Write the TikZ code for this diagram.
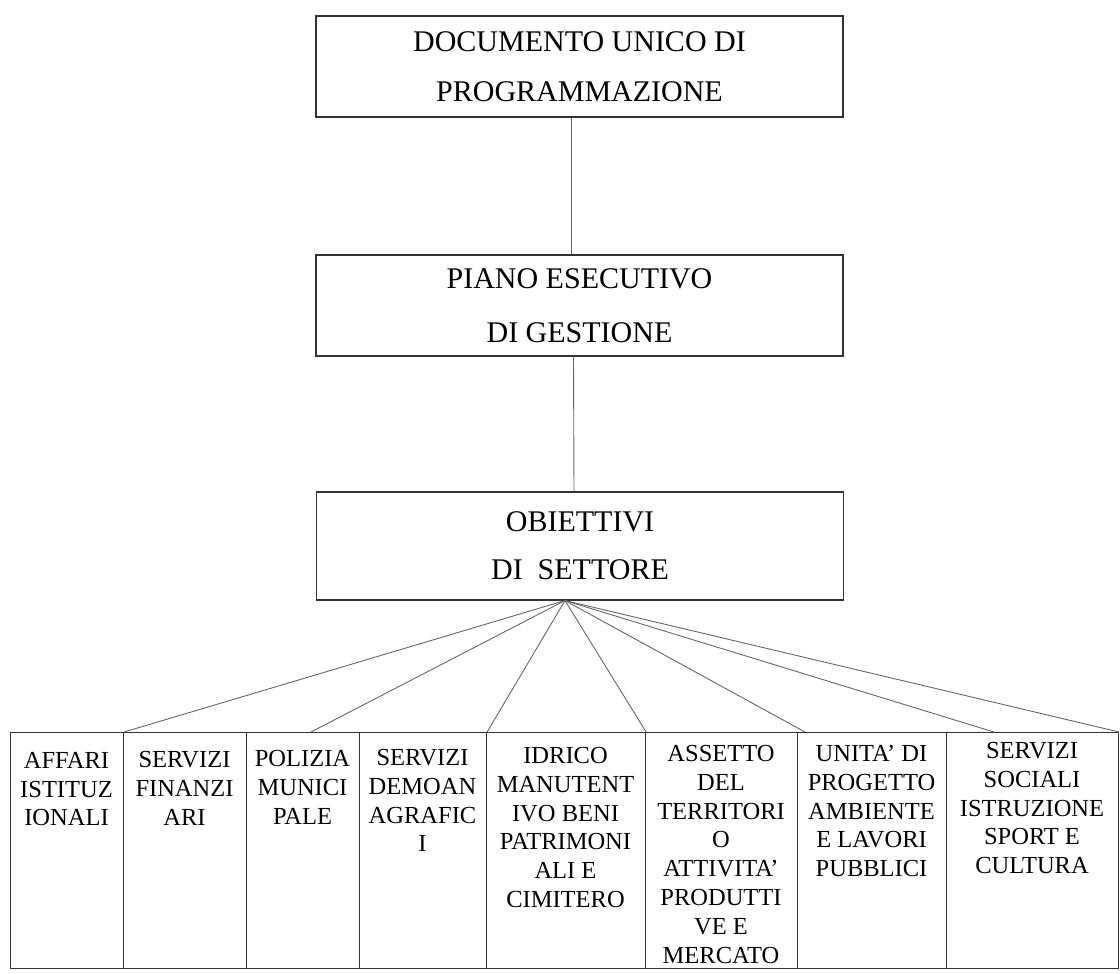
\documentclass[tikz,border=0pt]{standalone}
\usepackage{fontspec}
\setmainfont{Liberation Serif}
\begin{document}
\begin{tikzpicture}[x=1pt,y=-1pt,
  topbox/.style={draw=black!80, line width=1.1pt, minimum width=527pt, align=center, inner sep=0pt},
  colbox/.style={draw=black!80, line width=1.1pt, anchor=north west, inner sep=0pt, minimum height=236pt},
  coltext/.style={anchor=north, align=center, inner sep=0pt, font=\fontsize{24.5}{28.8}\selectfont},
  link/.style={draw=black!60, line width=0.9pt}]
\useasboundingbox (0,0) rectangle (1120,974);

% top boxes
\node[topbox, minimum height=101pt, font=\fontsize{30}{50}\selectfont] (b1) at (579.5,66.5) {DOCUMENTO UNICO DI\\PROGRAMMAZIONE};
\node[topbox, minimum height=101pt, font=\fontsize{30}{54}\selectfont] (b2) at (579.5,305.5) {PIANO ESECUTIVO\\DI GESTIONE};
\node[topbox, minimum height=108pt, font=\fontsize{30}{48}\selectfont] (b3) at (580,546) {OBIETTIVI\\DI\ \ SETTORE};

\draw[link] ([xshift=-8pt]b1.south) -- ([xshift=-8pt]b2.north);
\draw[link] ([xshift=-6pt]b2.south) -- ([xshift=-6pt]b3.north);

% bottom columns
\node[colbox, minimum width=113pt] (c1) at (10,732) {};
\node[colbox, minimum width=123pt] (c2) at (123,732) {};
\node[colbox, minimum width=113pt] (c3) at (246,732) {};
\node[colbox, minimum width=127pt] (c4) at (359,732) {};
\node[colbox, minimum width=159pt] (c5) at (486,732) {};
\node[colbox, minimum width=152pt] (c6) at (645,732) {};
\node[colbox, minimum width=149pt] (c7) at (797,732) {};
\node[colbox, minimum width=172pt] (c8) at (946,732) {};

\node[coltext] (t1) at (66.5,752) {AFFARI\\ISTITUZ\\IONALI};
\node[coltext] (t2) at (184.5,751) {SERVIZI\\FINANZI\\ARI};
\node[coltext] (t3) at (302.5,750) {POLIZIA\\MUNICI\\PALE};
\node[coltext] (t4) at (422.5,749) {SERVIZI\\DEMOAN\\AGRAFIC\\I};
\node[coltext] (t5) at (565.5,747) {IDRICO\\MANUTENT\\IVO BENI\\PATRIMONI\\ALI E\\CIMITERO};
\node[coltext] (t6) at (721,745) {ASSETTO\\DEL\\TERRITORI\\O\\ATTIVITA’\\PRODUTTI\\VE E\\MERCATO};
\node[coltext] (t7) at (871.5,745) {UNITA’ DI\\PROGETTO\\AMBIENTE\\E LAVORI\\PUBBLICI};
\node[coltext] (t8) at (1032,742) {SERVIZI\\SOCIALI\\ISTRUZIONE\\SPORT E\\CULTURA};

% fan connectors
\coordinate (apex) at ([xshift=-15pt]b3.south);
\coordinate (e2) at (311,732);
\coordinate (e5) at (805,732);
\coordinate (e6) at (994,732);
\draw[link] (apex) -- (c1.north east);
\draw[link] (apex) -- (e2);
\draw[link] (apex) -- (c4.north east);
\draw[link] (apex) -- (c5.north east);
\draw[link] (apex) -- (e5);
\draw[link] (apex) -- (e6);
\draw[link] (apex) -- (c8.north east);
\end{tikzpicture}
\end{document}
